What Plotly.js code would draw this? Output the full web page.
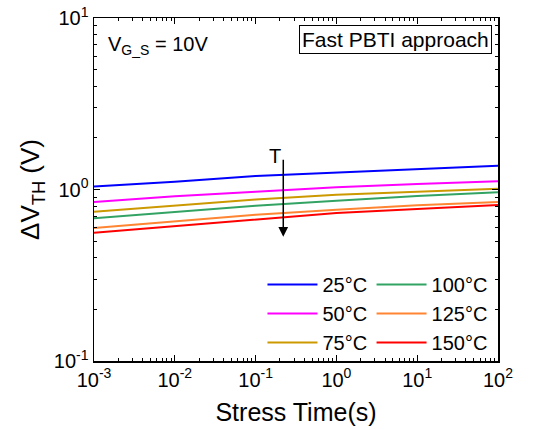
<!DOCTYPE html>
<html>
<head>
<meta charset="utf-8">
<script src="https://cdn.plot.ly/plotly-3.0.1.min.js"></script>
<style>html,body{margin:0;padding:0;background:#fff;}#chart{width:552px;height:430px;}</style>
</head>
<body>
<div id="chart"></div>
<script>
const times = [0.001, 0.01, 0.1, 1, 10, 100];
const temps = ['25°C', '50°C', '75°C', '100°C', '125°C', '150°C'];
const dv25  = [1.04, 1.11, 1.20, 1.253, 1.31, 1.377];
const dv50  = [0.845, 0.913, 0.971, 1.03, 1.077, 1.117];
const dv75  = [0.743, 0.804, 0.873, 0.933, 0.971, 1.01];
const dv100 = [0.679, 0.739, 0.804, 0.861, 0.916, 0.963];
const dv125 = [0.597, 0.653, 0.713, 0.762, 0.809, 0.845];
const dv150 = [0.56, 0.612, 0.67, 0.729, 0.769, 0.813];
const colors = ['#0000FF', '#FF00FF', '#CC9900', '#33A364', '#FF8533', '#FF0000'];
const xTickVals = [0.001, 0.01, 0.1, 1, 10, 100];
const xTickText = ['10<sup>-3</sup>', '10<sup>-2</sup>', '10<sup>-1</sup>', '10<sup>0</sup>', '10<sup>1</sup>', '10<sup>2</sup>'];
const yTickVals = [0.1, 1, 10];
const yTickText = ['10<sup>-1</sup>', '10<sup>0</sup>', '10<sup>1</sup>'];
const arrowX = 0.22, arrowTop = 1.52, arrowBottom = 0.53;

const series = [dv25, dv50, dv75, dv100, dv125, dv150];
const traces = series.map((ys, i) => ({
  x: times, y: ys, type: 'scatter', mode: 'lines', name: temps[i],
  line: {color: colors[i], width: 2},
  legend: i < 3 ? 'legend' : 'legend2'
}));

const font = {family: 'Liberation Sans, Arial, sans-serif', color: '#000'};
const legendCommon = {
  font: Object.assign({}, font, {size: 20}),
  bgcolor: 'rgba(0,0,0,0)', borderwidth: 0,
  xanchor: 'left', yanchor: 'top', itemwidth: 50, tracegroupgap: 0
};

const axisCommon = {
  type: 'log', showline: true, linecolor: '#000', linewidth: 1.5, mirror: 'ticks',
  ticks: 'inside', ticklen: 6, tickwidth: 1.2, tickcolor: '#000',
  showgrid: false, zeroline: false,
  tickfont: Object.assign({}, font, {size: 20}),
  minor: {ticks: 'inside', ticklen: 3, tickwidth: 1, tickcolor: '#000', dtick: 'D1', showgrid: false}
};

const layout = {
  width: 552, height: 430,
  margin: {l: 94, r: 54, t: 18, b: 69},
  paper_bgcolor: '#fff', plot_bgcolor: '#fff',
  font: font,
  xaxis: Object.assign({}, axisCommon, {
    range: [-3, 2], tickvals: xTickVals, ticktext: xTickText,
    title: {text: 'Stress Time(s)', font: Object.assign({}, font, {size: 25}), standoff: 14}
  }),
  yaxis: Object.assign({}, axisCommon, {
    range: [-1, 1], tickvals: yTickVals, ticktext: yTickText,
    title: {text: 'ΔV<sub>TH</sub> (V)', font: Object.assign({}, font, {size: 26}), standoff: 6}
  }),
  legend: Object.assign({}, legendCommon, {x: 0.417, y: 0.28}),
  legend2: Object.assign({}, legendCommon, {x: 0.687, y: 0.28}),
  annotations: [
    {xref: 'paper', yref: 'paper', x: 0.03, y: 0.92, xanchor: 'left', yanchor: 'middle',
     text: 'V<sub>G_S</sub> = 10V', showarrow: false, font: Object.assign({}, font, {size: 20})},
    {xref: 'paper', yref: 'paper', x: 0.985, y: 0.98, xanchor: 'right', yanchor: 'top',
     text: 'Fast PBTI approach', showarrow: false, font: Object.assign({}, font, {size: 21}),
     bordercolor: '#000', borderwidth: 1, borderpad: 2, bgcolor: '#fff'},
    {xref: 'x', yref: 'y', x: Math.log10(arrowX), y: Math.log10(arrowBottom),
     axref: 'x', ayref: 'y', ax: Math.log10(arrowX), ay: Math.log10(arrowTop),
     showarrow: true, arrowhead: 2, arrowsize: 1.3, arrowwidth: 1.5, arrowcolor: '#000', text: ''},
    {xref: 'x', yref: 'y', x: Math.log10(arrowX), y: Math.log10(arrowTop), xanchor: 'right', yanchor: 'middle',
     xshift: 0, yshift: 2, text: 'T', showarrow: false, font: Object.assign({}, font, {size: 20})}
  ]
};

Plotly.newPlot('chart', traces, layout, {displayModeBar: false, staticPlot: true});
</script>
</body>
</html>
